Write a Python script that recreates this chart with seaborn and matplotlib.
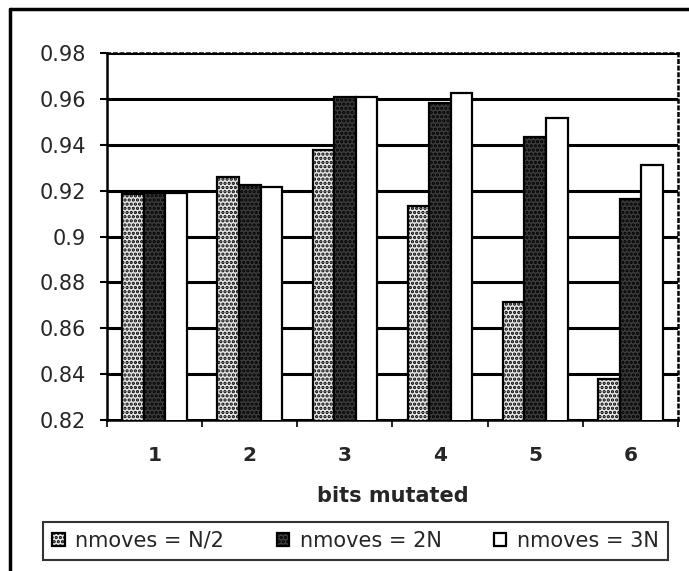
import matplotlib
matplotlib.use("Agg")
import matplotlib.pyplot as plt
import seaborn as sns
import pandas as pd
from matplotlib.lines import Line2D

categories = ["1", "2", "3", "4", "5", "6"]
series_names = ["nmoves = N/2", "nmoves = 2N", "nmoves = 3N"]
vals_half = [0.9185, 0.926, 0.9375, 0.9135, 0.8715, 0.838]
vals_2n = [0.919, 0.9225, 0.961, 0.958, 0.9435, 0.9165]
vals_3n = [0.919, 0.9215, 0.961, 0.9625, 0.9515, 0.931]
y_ticks = [0.82, 0.84, 0.86, 0.88, 0.9, 0.92, 0.94, 0.96, 0.98]
y_tick_labels = ["0.82", "0.84", "0.86", "0.88", "0.9", "0.92", "0.94", "0.96", "0.98"]

rows = []
for name, vals in zip(series_names, [vals_half, vals_2n, vals_3n]):
    for c, v in zip(categories, vals):
        rows.append({"bits": c, "series": name, "value": v})
df = pd.DataFrame(rows)

sns.set_style("white")
plt.rcParams["font.family"] = ["DejaVu Sans"]
plt.rcParams["hatch.linewidth"] = 1.6

fig = plt.figure(figsize=(6.89, 5.71), dpi=100)
ax = fig.add_axes([107/689, 1-420/571, (678-107)/689, (420-53)/571])

faces = ["#e6e6e6", "#3c3c3c", "#ffffff"]
hatches = ["....", "....", ""]
palette = dict(zip(series_names, faces))

sns.barplot(data=df, x="bits", y="value", hue="series", order=categories,
            hue_order=series_names, palette=palette, width=0.68,
            edgecolor="black", linewidth=1.6, saturation=1, ax=ax, zorder=3)

for i, cont in enumerate(ax.containers):
    for p in cont:
        p.set_hatch(hatches[i])
        p.set_facecolor(faces[i])
        p.set_edgecolor("black")
        p.set_zorder(3)

ax.set_ylim(0.82, 0.98)
ax.set_xlim(-0.5, 5.5)
ax.set_yticks(y_ticks)
ax.set_yticklabels(y_tick_labels)
ax.yaxis.grid(True, color="black", linewidth=2.2, zorder=1)
ax.set_axisbelow(True)
ax.set_ylabel("")

ax.set_xticks(range(len(categories)))
ax.set_xticklabels(categories, fontweight="bold")
ax.set_xticks([i - 0.5 for i in range(len(categories) + 1)], minor=True)
ax.tick_params(axis="x", which="major", length=0, pad=19, labelsize=14.5)
ax.tick_params(axis="x", which="minor", length=5, width=1.2, direction="out", color="black", bottom=True)
ax.tick_params(axis="y", which="major", length=5, width=1.5, direction="out", color="black", left=True, pad=10, labelsize=15)

ax.set_xlabel("bits mutated", fontsize=15, fontweight="bold", labelpad=15)

for s in ["left", "bottom"]:
    ax.spines[s].set_visible(True)
    ax.spines[s].set_color("black")
    ax.spines[s].set_linewidth(1.8)
for s in ["top", "right"]:
    ax.spines[s].set_visible(True)
    ax.spines[s].set_color("black")
    ax.spines[s].set_linewidth(1.8)
    ax.spines[s].set_linestyle(":")

leg = ax.legend(loc="center", bbox_to_anchor=(43/689, 1-563/571, 625/689, 44/571),
                bbox_transform=fig.transFigure, mode="expand", ncol=3, fontsize=15,
                frameon=True, fancybox=False, edgecolor="black",
                handlelength=0.6, handleheight=0.6, handletextpad=0.5,
                columnspacing=1.0, borderpad=0.45, borderaxespad=0)
leg.get_frame().set_linewidth(1.5)
for h, hh, fc in zip(leg.legend_handles, hatches, faces):
    h.set_hatch(hh)
    h.set_facecolor(fc)
    h.set_edgecolor("black")

fig.add_artist(Line2D([10/689, 10/689], [0, 1-9/571], transform=fig.transFigure, color="black", linewidth=2.5))
fig.add_artist(Line2D([10/689, 1], [1-9/571, 1-9/571], transform=fig.transFigure, color="black", linewidth=2.5))

fig.savefig("out.png", dpi=100)
